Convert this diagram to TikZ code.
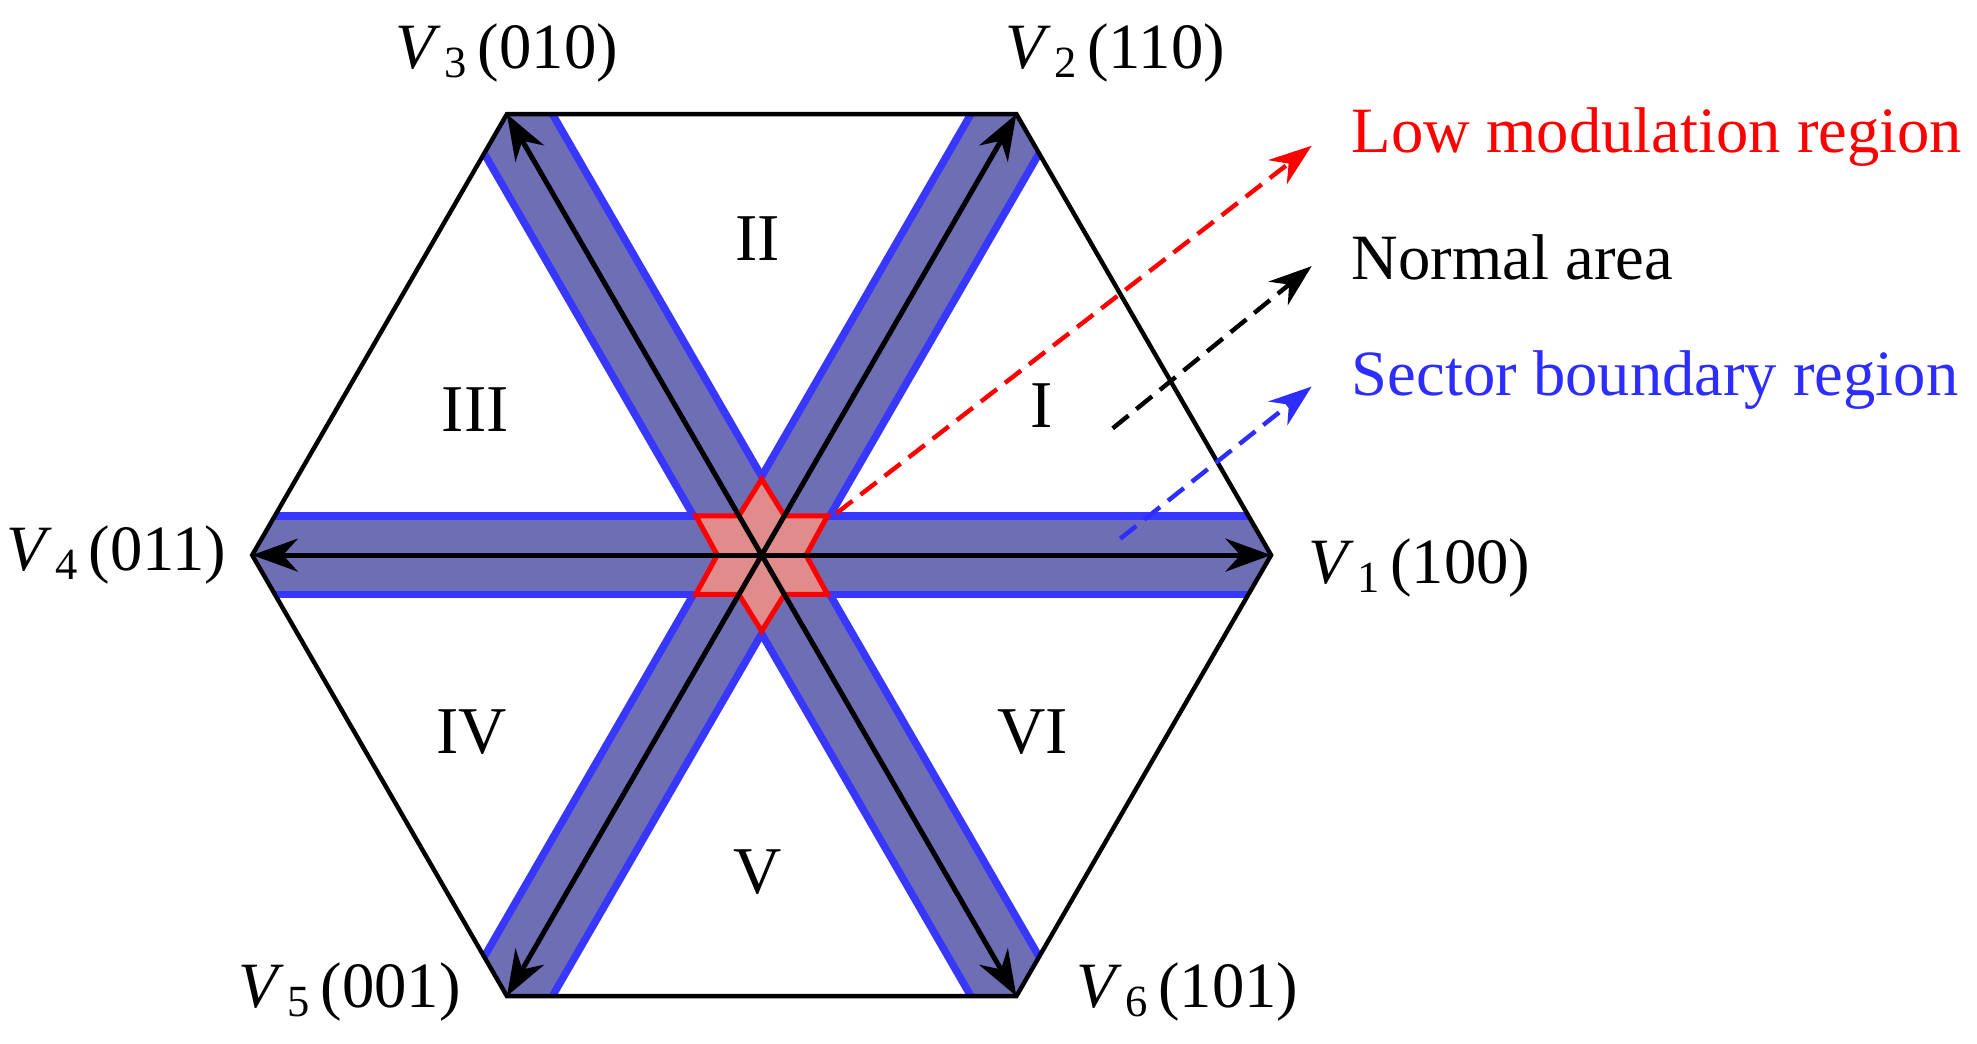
\documentclass[tikz,border=0pt]{standalone}
\usepackage{fontspec}
\setmainfont{Liberation Serif}
\usetikzlibrary{arrows.meta,calc}
\definecolor{bandfill}{RGB}{110,110,180}
\definecolor{bandedge}{RGB}{55,55,255}
\definecolor{starfill}{RGB}{225,140,140}
\definecolor{myblue}{RGB}{45,45,255}
\newcommand{\vv}[2]{\textit{V}\kern0.05em\raisebox{-0.3ex}{\fontsize{10}{12}\selectfont #1}\,(#2)}
\begin{document}
\begin{tikzpicture}[x=0.01cm,y=-0.01cm,
  lab/.style={font=\fontsize{14.5}{16}\selectfont, inner sep=0pt},
  sec/.style={font=\fontsize{15}{17}\selectfont, inner sep=0pt},
  leg/.style={font=\fontsize{14.5}{16}\selectfont, inner sep=0pt, anchor=west},
  vec/.style={line width=0.04cm, {Stealth[length=0.36cm,width=0.26cm]}-{Stealth[length=0.36cm,width=0.26cm]}},
  ptr/.style={line width=0.035cm, dash pattern=on 0.16cm off 0.08cm, -{Stealth[length=0.34cm,width=0.24cm]}}]
\useasboundingbox (0,0) rectangle (1560,823);
\coordinate (O) at (601,438);
\coordinate (V1) at (1003,438);
\coordinate (V2) at (802,90);
\coordinate (V3) at (400,90);
\coordinate (V4) at (199,438);
\coordinate (V5) at (400,786);
\coordinate (V6) at (802,786);
\begin{scope}
\clip (V1)--(V2)--(V3)--(V4)--(V5)--(V6)--cycle;
\foreach \a/\b in {V1/V4,V2/V5,V3/V6}{
  \draw[bandedge,line width=0.68cm] ($(\a)!-0.1!(\b)$) -- ($(\b)!-0.1!(\a)$);}
\foreach \a/\b in {V1/V4,V2/V5,V3/V6}{
  \draw[bandfill,line width=0.56cm] ($(\a)!-0.1!(\b)$) -- ($(\b)!-0.1!(\a)$);}
\end{scope}
\draw[red,line width=0.04cm,fill=starfill]
  (601,378)--(619,407)--(653,407)--(636,438)--(653,469)--(619,469)--(601,498)
  --(583,469)--(549,469)--(566,438)--(549,407)--(583,407)--cycle;
\draw[vec] (V4) -- (V1);
\draw[vec] (V5) -- (V2);
\draw[vec] (V6) -- (V3);
\draw[line width=0.035cm,line join=miter] (V1)--(V2)--(V3)--(V4)--(V5)--(V6)--cycle;
\node[lab] (l3) at (400,42) {\vv{3}{010}};
\node[lab] (l2) at (880,42) {\vv{2}{110}};
\node[lab] (l1) at (1120,448) {\vv{1}{100}};
\node[lab] (l4) at (92,438) {\vv{4}{011}};
\node[lab] (l5) at (276,783) {\vv{5}{001}};
\node[lab] (l6) at (937,783) {\vv{6}{101}};
\node[sec] (s1) at (822,320) {I};
\node[sec] (s2) at (598,188) {II};
\node[sec] (s3) at (375,323) {III};
\node[sec] (s4) at (372,578) {IV};
\node[sec] (s5) at (598,688) {V};
\node[sec] (s6) at (815,578) {VI};
\node[leg,red] (t1) at (1066,108) {Low modulation region};
\node[leg] (t2) at (1066,203) {Normal area};
\node[leg,myblue] (t3) at (1066,300) {Sector boundary region};
\coordinate (a1) at (660,405);
\coordinate (a2) at (878,338);
\coordinate (a3) at (884,425);
\draw[ptr,red] (a1) -- (1035,115);
\draw[ptr] (a2) -- (1035,210);
\draw[ptr,myblue] (a3) -- (1035,305);
\end{tikzpicture}
\end{document}
